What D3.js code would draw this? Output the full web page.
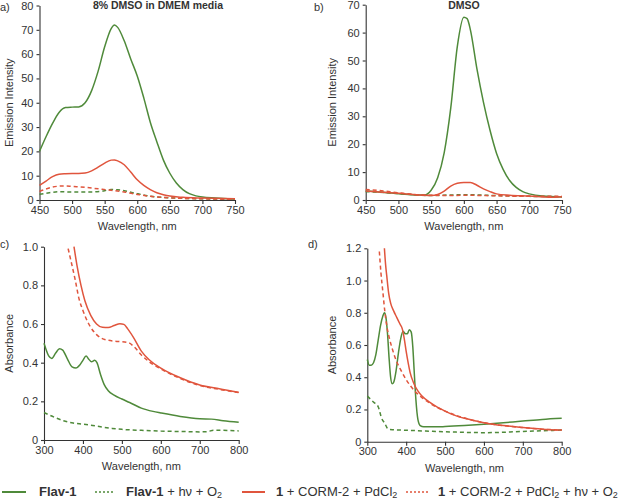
<!DOCTYPE html>
<html><head><meta charset="utf-8">
<script src="https://cdn.jsdelivr.net/npm/d3@7"></script>
<style>
body{margin:0;background:#fff;}
text{font-family:"Liberation Sans",Arial,sans-serif;fill:#333;}
</style></head>
<body><svg id="c" width="625" height="499"></svg>
<script>
// ---------- DATA ----------
// Panel a (8% DMSO in DMEM media) — emission
const aFlavX = [450,460,470,480,490,500,510,520,530,540,550,560,565,570,580,590,600,610,620,630,640,650,660,670,680,690,700,720,750];
const aFlavY = [20,26,31.5,36,38,38.2,38.3,40,45,53,63,70.5,72,71,65.5,58,51,42,32,24,16.5,11,7,4.3,2.6,1.7,1.2,0.8,0.3];
const aFlavHvX = [450,465,480,500,530,545,560,570,580,600,620,650,700,750];
const aFlavHvY = [2.3,3.0,3.4,3.3,3.3,3.6,4.3,4.2,3.8,2.6,1.6,0.9,0.5,0.3];
const aRedX = [450,460,470,480,490,500,510,520,530,540,550,560,565,570,580,590,600,610,620,630,640,650,670,700,750];
const aRedY = [6,7.8,9.6,10.6,10.8,10.9,10.9,11.1,12,13.5,15.2,16.4,16.5,16.1,14.5,11.5,8.3,6,4.3,3,2.2,1.6,1.1,0.8,0.5];
const aRedHvX = [450,460,470,480,490,500,520,540,560,580,600,620,650,700,750];
const aRedHvY = [3.5,4.5,5.3,5.7,5.8,5.6,5.2,4.6,4.0,3.3,2.3,1.5,0.9,0.5,0.3];

// Panel b (DMSO) — emission
const bFlavX = [450,470,490,510,530,540,550,560,570,580,590,600,605,610,620,630,640,650,660,670,680,690,700,720,750];
const bFlavY = [3.2,2.9,2.5,2.1,1.8,1.8,3.5,8,17,33,55,65.5,65,61,47,35,25,16.7,11,7,4.5,3,2.2,1.4,1.1];
const bFlavHvX = [450,470,500,530,550,580,600,650,700,750];
const bFlavHvY = [3.0,2.8,2.3,1.8,1.6,1.8,1.9,1.6,1.3,1.2];
const bRedX = [450,470,500,530,550,560,570,580,590,600,610,620,630,640,650,670,700,730,750];
const bRedY = [3.2,2.9,2.4,1.8,1.6,2.0,3.2,5.0,6.0,6.3,6.3,5.3,4.0,3.0,2.2,1.7,1.4,1.0,1.2];
const bRedHvX = [450,470,500,530,550,580,600,650,700,750];
const bRedHvY = [3.8,3.4,2.6,1.9,1.7,1.6,1.7,1.5,1.3,1.3];

// Panel c — absorbance
const cFlavX = [300,305,312,320,330,340,348,360,372,382,392,400,408,415,422,430,436,445,455,465,480,500,520,550,580,600,650,700,730,760,800];
const cFlavY = [0.5,0.47,0.435,0.422,0.45,0.472,0.465,0.42,0.378,0.372,0.388,0.412,0.434,0.418,0.405,0.412,0.4,0.34,0.285,0.255,0.232,0.212,0.194,0.165,0.148,0.14,0.122,0.11,0.108,0.1,0.092];
const cFlavHvX = [300,315,330,350,375,400,425,450,475,500,550,600,650,700,720,735,760,800];
const cFlavHvY = [0.142,0.128,0.115,0.1,0.088,0.082,0.075,0.067,0.06,0.055,0.05,0.046,0.044,0.042,0.043,0.051,0.05,0.047];
const cRedX = [377,385,395,405,420,435,450,465,480,495,505,515,530,550,570,600,650,700,750,800];
const cRedY = [1.0,0.9,0.8,0.72,0.645,0.6,0.583,0.582,0.592,0.602,0.598,0.575,0.53,0.46,0.415,0.372,0.322,0.285,0.265,0.247];
const cRedHvX = [362,370,380,390,400,415,435,460,490,515,530,550,570,600,650,700,750,800];
const cRedHvY = [0.99,0.92,0.83,0.73,0.67,0.6,0.545,0.518,0.51,0.505,0.485,0.44,0.405,0.368,0.318,0.282,0.262,0.245];

// Panel d — absorbance
const dFlavX = [300,305,310,316,322,328,334,340,344,348,352,356,360,364,368,374,380,386,392,398,403,408,413,417,421,425,430,436,445,470,500,550,600,650,700,750,800];
const dFlavY = [0.51,0.475,0.475,0.49,0.54,0.63,0.72,0.78,0.8,0.77,0.67,0.52,0.4,0.36,0.37,0.44,0.55,0.64,0.685,0.67,0.67,0.695,0.68,0.59,0.42,0.26,0.14,0.1,0.092,0.092,0.094,0.1,0.108,0.118,0.128,0.138,0.145];
const dFlavHvX = [300,315,328,337,345,354,365,392,450,521,607,700,800];
const dFlavHvY = [0.283,0.248,0.217,0.145,0.114,0.077,0.074,0.072,0.066,0.06,0.056,0.064,0.072];
const dRedX = [344,347,350,355,360,368,376,384,390,395,400,405,410,420,430,440,460,480,500,520,550,580,600,650,700,750,800];
const dRedY = [1.2,1.1,1.03,0.92,0.86,0.81,0.77,0.73,0.7,0.64,0.56,0.49,0.43,0.36,0.315,0.285,0.245,0.215,0.19,0.168,0.145,0.128,0.118,0.1,0.088,0.078,0.072];
const dRedHvX = [331,335,340,345,350,357,365,375,385,400,420,440,460,480,500,530,560,600,650,700,750,800];
const dRedHvY = [1.18,1.05,0.93,0.81,0.72,0.64,0.57,0.5,0.45,0.385,0.32,0.275,0.24,0.212,0.19,0.162,0.14,0.118,0.1,0.088,0.078,0.072];

// Axis ticks and labels
const emisXTicks = [450,500,550,600,650,700,750];
const aYTicks = [0,10,20,30,40,50,60,70,80];
const bYTicks = [0,10,20,30,40,50,60,70];
const absXTicks = [300,400,500,600,700,800];
const cYTicks = [0,0.2,0.4,0.6,0.8,1.0];
const dYTicks = [0,0.2,0.4,0.6,0.8,1.0,1.2];
const panelTitles = ["8% DMSO in DMEM media","DMSO","",""];
const panelLetters = ["a)","b)","c)","d)"];

// ---------- STYLE ----------
const GREEN = "#4f8a3a", RED = "#e0553d", AX = "#333";
const svg = d3.select("#c");

function fmtAbs(v){ return v===0 ? "0" : d3.format(".1f")(v); }

function panel(o){
  const x = d3.scaleLinear().domain(o.xd).range([o.l, o.r]);
  const y = d3.scaleLinear().domain(o.yd).range([o.b, o.t]);
  const g = svg.append("g");
  const xa = g.append("g").attr("transform",`translate(0,${o.b})`)
    .call(d3.axisBottom(x).tickValues(o.xt).tickSize(4).tickSizeOuter(0).tickPadding(2));
  const ya = g.append("g").attr("transform",`translate(${o.l},0)`)
    .call(d3.axisLeft(y).tickValues(o.yt).tickSize(3).tickSizeOuter(0).tickPadding(3).tickFormat(o.yf));
  [xa,ya].forEach(a=>{
    a.selectAll("path,line").attr("stroke",AX).attr("stroke-width",1.1);
    a.selectAll("text").attr("font-size","11px").attr("fill",AX).attr("font-family","'Liberation Sans',Arial,sans-serif");
  });
  const line = d3.line().x(d=>x(d[0])).y(d=>y(d[1])).curve(d3.curveMonotoneX);
  o.series.forEach(s=>{
    const pts = s.x.map((v,i)=>[v,s.y[i]]);
    g.append("path").datum(pts).attr("d",line).attr("fill","none")
      .attr("stroke",s.c).attr("stroke-width",1.5)
      .attr("stroke-dasharray",s.dash?"4,3":null);
  });
  // axis title
  g.append("text").attr("x",(o.l+o.r)/2).attr("y",o.b+30).attr("text-anchor","middle")
    .attr("font-size","11px").text("Wavelength, nm");
  g.append("text").attr("transform",`translate(${o.ylx},${(o.t+o.b)/2}) rotate(-90)`)
    .attr("text-anchor","middle").attr("font-size","11px").text(o.ylab);
  if(o.title) g.append("text").attr("x",o.tx).attr("y",9).attr("text-anchor","middle")
    .attr("font-size","10.5px").attr("font-weight","bold").text(o.title);
  g.append("text").attr("x",o.lx).attr("y",o.ly).attr("font-size","11px").text(o.letter);
}

panel({l:39.5,r:235,t:5.5,b:200,xd:[450,750],yd:[0,80],xt:emisXTicks,yt:aYTicks,yf:d3.format("d"),
  ylab:"Emission Intensity",ylx:13,title:panelTitles[0],tx:158,letter:panelLetters[0],lx:0,ly:11,
  series:[{x:aFlavX,y:aFlavY,c:GREEN},{x:aFlavHvX,y:aFlavHvY,c:GREEN,dash:1},{x:aRedX,y:aRedY,c:RED},{x:aRedHvX,y:aRedHvY,c:RED,dash:1}]});
panel({l:365.7,r:562,t:4.7,b:200,xd:[450,750],yd:[0,70],xt:emisXTicks,yt:bYTicks,yf:d3.format("d"),
  ylab:"Emission Intensity",ylx:336,title:panelTitles[1],tx:464,letter:panelLetters[1],lx:314,ly:11,
  series:[{x:bFlavX,y:bFlavY,c:GREEN},{x:bFlavHvX,y:bFlavHvY,c:GREEN,dash:1},{x:bRedX,y:bRedY,c:RED},{x:bRedHvX,y:bRedHvY,c:RED,dash:1}]});
panel({l:44,r:238.7,t:246.7,b:440,xd:[300,800],yd:[0,1.0],xt:absXTicks,yt:cYTicks,yf:fmtAbs,
  ylab:"Absorbance",ylx:13,title:panelTitles[2],letter:panelLetters[2],lx:0,ly:248,
  series:[{x:cFlavX,y:cFlavY,c:GREEN},{x:cFlavHvX,y:cFlavHvY,c:GREEN,dash:1},{x:cRedX,y:cRedY,c:RED},{x:cRedHvX,y:cRedHvY,c:RED,dash:1}]});
panel({l:367.3,r:561.7,t:248.3,b:441.7,xd:[300,800],yd:[0,1.2],xt:absXTicks,yt:dYTicks,yf:fmtAbs,
  ylab:"Absorbance",ylx:336,title:panelTitles[3],letter:panelLetters[3],lx:308,ly:248,
  series:[{x:dFlavX,y:dFlavY,c:GREEN},{x:dFlavHvX,y:dFlavHvY,c:GREEN,dash:1},{x:dRedX,y:dRedY,c:RED},{x:dRedHvX,y:dRedHvY,c:RED,dash:1}]});

// ---------- LEGEND ----------
const leg = svg.append("g").attr("font-size","13px");
const LY = 492, TY = 496;
function legLine(x1,x2,c,dotted){
  leg.append("line").attr("x1",x1).attr("x2",x2).attr("y1",LY).attr("y2",LY)
    .attr("stroke",c).attr("stroke-width",dotted?1.5:2).attr("stroke-dasharray",dotted?"2,2":null);
}
function legText(x,parts){
  const t = leg.append("text").attr("x",x).attr("y",TY);
  parts.forEach(p=>{
    const ts = t.append("tspan").text(p.t);
    if(p.b) ts.attr("font-weight","bold");
    if(p.sub) ts.attr("font-size","9px").attr("dy",2);
    if(p.up) ts.attr("dy",-2);
  });
}
legLine(2,26,GREEN,false);
legText(39,[{t:"Flav-1",b:1}]);
legLine(95,115,GREEN,true);
legText(126,[{t:"Flav-1",b:1},{t:" + hν + O"},{t:"2",sub:1}]);
legLine(242,265,RED,false);
legText(276,[{t:"1",b:1},{t:" + CORM-2 + PdCl"},{t:"2",sub:1}]);
legLine(406,428,RED,true);
legText(438,[{t:"1",b:1},{t:" + CORM-2 + PdCl"},{t:"2",sub:1},{t:" + hν + O",up:1},{t:"2",sub:1}]);
</script></body></html>
